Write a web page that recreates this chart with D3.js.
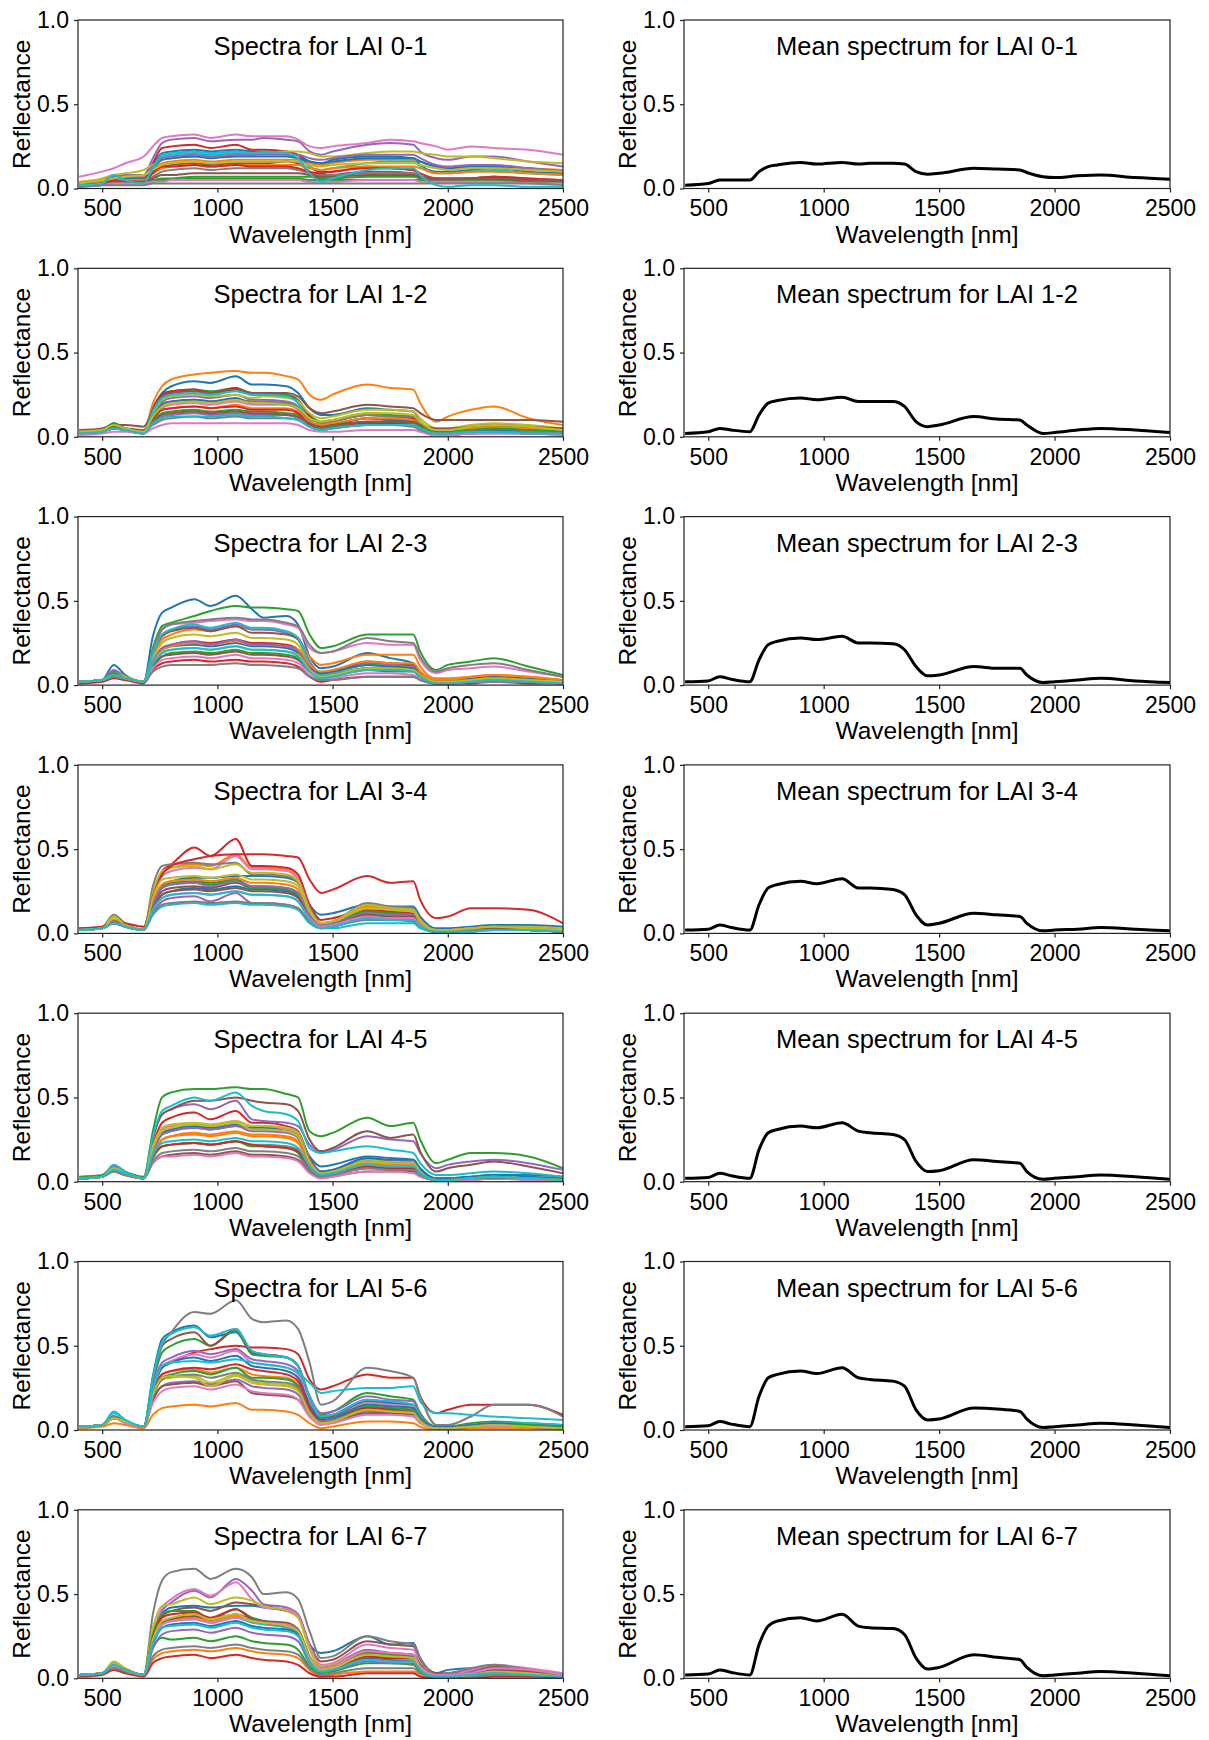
<!DOCTYPE html>
<html><head><meta charset="utf-8">
<script src="https://cdn.jsdelivr.net/npm/d3@7"></script>
<style>body{margin:0;background:#fff} svg text{font-family:"Liberation Sans",Arial,sans-serif;fill:#000}</style>
</head><body><svg id="c" width="1209" height="1740"></svg>
<script>
// Wavelength grid [nm] shared by all spectra
const wavelengths = [400,500,550,600,680,720,760,800,900,970,1080,1150,1200,1300,1350,1400,1450,1500,1650,1750,1850,1880,1950,2000,2100,2200,2350,2500];
// Reflectance values in percent, one row per spectrum
const spectraLAI01 = [
[2,3,6,5,4,14,21,22,23,22,23,22,22,22,20,16,15,17,19,19,18,14,10,10,11,12,10,9],
[3,5,7,7,7,11,15,16,17,16,17,17,17,17,17,15,14,15,17,17,17,16,13,12,13,13,12,11],
[2,3,4,4,4,5,6,6,7,7,7,7,7,7,7,7,6,6,7,7,7,6,5,5,5,5,5,4],
[2,3,5,4,4,15,24,25,26,24,26,23,23,22,20,13,10,10,13,12,11,8,5,5,6,7,5,4],
[3,5,8,8,8,18,27,29,30,28,29,29,30,29,28,22,20,22,26,27,26,22,18,17,19,19,16,13],
[2,4,5,6,6,10,13,14,15,14,15,15,15,16,15,10,7,8,10,10,9,7,5,5,6,6,5,4],
[7,10,12,15,19,25,30,31,32,30,32,31,31,31,29,25,24,25,27,29,28,27,25,23,25,24,23,20],
[2,3,4,4,4,7,10,11,12,11,12,12,12,12,11,9,8,8,9,9,9,7,6,6,6,7,6,5],
[4,6,8,9,11,14,17,18,19,19,20,20,21,22,22,21,19,19,21,22,22,21,20,19,19,18,16,15],
[3,4,6,6,5,13,19,20,21,20,21,20,21,20,18,13,11,12,15,16,16,13,9,9,10,11,9,8],
[3,4,6,6,6,12,17,18,19,18,19,19,19,19,18,16,15,16,18,18,18,16,13,12,13,13,12,10],
[2,4,5,5,5,9,12,13,14,13,14,14,14,14,14,12,11,12,13,13,13,12,9,9,10,10,9,8],
[1,2,3,3,3,4,5,5,6,6,6,6,6,6,6,5,5,5,5,5,5,5,4,4,4,4,4,3],
[2,3,5,4,4,9,13,13,14,13,14,13,13,13,12,10,9,10,12,12,11,9,6,6,6,7,6,5],
[3,5,7,7,8,13,18,19,20,19,20,20,20,20,20,18,17,18,20,20,20,18,14,13,14,14,12,10],
[2,3,4,4,4,6,8,8,9,9,9,9,9,9,9,8,7,7,8,8,8,7,6,6,6,6,5,5],
[1,2,3,3,3,4,4,5,5,5,5,5,5,5,5,4,4,4,5,5,5,4,4,4,4,4,3,3],
[1,2,2,2,2,3,3,3,3,3,3,3,3,3,3,3,3,3,3,3,3,3,3,3,3,3,3,2],
[3,5,6,7,8,11,14,15,16,15,16,16,16,16,16,14,13,14,15,15,15,14,12,11,12,12,11,10],
[2,3,8,5,3,12,20,21,22,21,22,21,22,21,18,9,4,6,11,12,12,8,2,1,2,2,1,1]
];
const spectraLAI12 = [
[3,4,6,5,3,17,26,30,33,32,36,31,31,30,26,17,13,13,17,16,15,9,4,4,5,6,5,4],
[3,4,6,5,3,20,30,34,37,38,39,38,38,36,34,25,22,25,31,29,28,20,9,12,16,18,11,7],
[2,4,8,5,3,16,25,27,28,27,29,26,26,25,22,13,9,10,14,13,12,8,3,3,4,5,4,3],
[2,3,6,4,2,16,25,27,28,26,29,25,25,24,21,12,8,9,13,12,11,7,2,2,3,4,3,2],
[2,3,6,4,2,14,21,23,24,23,25,22,22,21,18,9,6,7,11,10,10,6,2,2,3,4,3,2],
[4,5,7,7,6,16,24,26,27,26,28,26,26,26,24,17,14,15,19,18,17,14,10,10,10,10,10,9],
[2,3,5,4,2,11,17,19,20,19,21,19,19,19,16,8,5,6,9,9,8,5,2,2,2,3,2,2],
[3,4,6,5,4,13,20,21,22,21,22,21,21,20,18,11,8,9,13,12,12,8,4,4,5,6,5,4],
[3,4,7,5,3,14,22,24,25,24,25,23,24,23,21,14,11,12,16,16,15,11,5,5,7,8,7,5],
[2,3,6,4,2,15,23,25,26,25,27,25,25,24,20,10,6,7,11,10,9,6,2,2,3,3,2,2],
[2,3,6,4,2,12,19,21,22,21,23,20,20,19,17,9,6,7,11,10,10,7,3,3,4,4,3,2],
[3,4,7,5,3,11,16,17,18,17,19,17,17,17,15,9,7,8,11,11,10,7,3,4,5,6,5,4],
[2,3,8,5,2,10,14,15,16,15,16,15,15,14,13,7,5,6,9,9,8,6,3,3,4,5,4,3],
[2,3,5,4,2,11,16,17,18,17,18,16,16,16,14,7,4,5,8,8,7,4,1,1,2,3,2,2],
[2,3,5,4,2,8,12,13,14,13,14,13,13,13,11,6,4,5,7,7,7,4,1,1,2,2,2,1],
[3,4,6,5,4,9,13,14,15,14,15,14,14,13,12,8,6,7,9,9,9,7,5,5,6,7,6,5],
[1,2,3,3,2,5,7,8,8,8,8,8,8,8,7,4,3,3,4,4,4,3,1,1,2,2,2,1],
[2,3,5,4,3,7,10,11,12,11,12,11,11,11,10,6,4,5,7,7,6,4,2,2,3,3,3,2],
[3,4,7,5,3,12,18,20,21,20,22,20,20,19,17,11,9,10,14,14,13,9,4,4,6,7,6,4],
[2,3,5,4,2,8,11,12,12,12,13,12,12,11,10,6,4,5,7,7,7,5,2,2,3,3,2,2]
];
const spectraLAI23 = [
[2,3,12,6,2,29,43,46,51,47,53,45,40,41,36,17,10,11,19,16,13,8,3,3,4,5,4,3],
[2,3,6,4,2,17,27,30,33,32,35,33,33,31,28,17,12,13,18,18,18,11,4,4,5,6,5,3],
[2,3,8,5,2,22,35,37,41,44,47,46,46,45,44,30,22,23,30,30,30,20,9,12,14,16,11,6],
[2,3,6,4,2,14,22,24,26,25,27,25,25,24,21,10,5,6,10,9,9,5,1,1,2,3,2,1],
[2,3,9,5,2,19,30,33,35,33,36,33,33,31,28,14,7,8,13,12,11,6,2,2,3,4,3,2],
[2,3,6,4,2,19,29,32,34,32,35,31,31,30,27,13,7,8,14,13,12,7,2,2,3,4,3,2],
[2,3,6,4,2,20,33,36,37,38,39,38,38,36,34,22,19,20,25,24,24,15,7,9,10,11,8,5],
[2,3,6,4,2,20,33,36,38,39,40,39,39,37,35,24,19,20,28,26,25,17,8,10,12,13,9,5],
[2,3,7,5,2,16,25,28,30,29,31,28,28,27,24,12,6,7,12,11,10,6,2,2,3,4,3,2],
[2,3,7,4,2,19,30,33,36,34,37,34,34,32,28,13,6,7,12,11,10,6,2,2,3,3,2,2],
[2,3,6,4,2,13,21,23,24,23,25,23,23,22,19,11,7,8,12,11,10,6,2,2,3,4,3,2],
[2,3,6,4,2,13,21,23,25,24,26,24,24,23,21,12,8,9,14,13,13,8,3,3,5,6,5,3],
[2,3,7,4,2,11,17,19,20,19,21,19,19,18,16,8,4,5,9,8,8,5,1,1,2,3,2,1],
[1,2,4,3,1,9,13,14,15,14,15,14,14,13,11,5,2,3,5,5,5,3,1,1,1,2,1,1],
[2,3,6,4,2,14,22,24,26,24,27,24,24,23,20,10,5,6,10,9,9,5,1,1,2,3,2,1],
[2,3,5,4,2,11,17,18,19,18,20,18,18,17,15,8,5,6,10,10,9,6,2,2,3,4,3,2],
[2,3,5,4,2,10,15,16,17,16,18,16,16,15,13,6,3,4,7,7,6,4,1,1,2,2,2,1],
[2,3,5,4,2,8,11,12,12,12,13,12,12,11,10,5,3,3,5,5,5,3,1,1,2,2,2,1],
[2,3,6,4,2,13,20,21,22,21,23,21,21,20,18,9,5,6,10,10,9,6,2,2,3,4,3,2],
[2,3,6,4,2,13,19,21,22,21,23,21,21,20,17,8,4,5,9,9,8,5,1,1,2,3,2,1]
];
const spectraLAI34 = [
[2,3,7,5,2,18,29,31,33,33,34,34,34,33,30,17,11,12,17,16,16,10,3,3,4,5,5,4],
[2,3,9,5,2,22,36,39,41,40,47,39,39,38,33,16,6,7,16,15,14,8,2,2,3,4,3,2],
[2,3,7,5,2,18,28,30,31,30,32,28,28,27,24,11,5,6,14,13,12,7,1,1,2,3,2,1],
[2,3,8,5,2,24,37,41,51,46,56,40,40,39,35,17,8,9,14,13,12,7,2,2,3,4,3,2],
[2,3,6,4,2,13,19,21,22,19,24,18,18,17,15,7,3,4,9,8,8,4,1,1,2,2,2,1],
[2,3,7,4,2,16,25,27,28,27,30,27,27,26,23,11,5,6,13,12,11,6,1,1,2,3,2,1],
[2,3,8,5,2,21,34,37,39,38,46,38,38,37,32,15,6,7,15,14,13,7,2,2,3,4,3,2],
[3,4,11,6,2,28,40,41,42,41,42,35,35,34,30,15,6,7,18,16,15,8,2,2,3,4,4,3],
[2,3,10,5,2,24,37,39,40,38,41,36,36,35,31,14,6,7,17,15,14,8,2,2,3,4,4,3],
[2,3,6,4,2,11,16,17,18,17,18,17,17,16,14,6,3,3,6,6,6,3,1,1,1,2,2,1],
[2,3,6,4,2,15,23,25,27,26,28,26,26,25,22,10,5,6,11,10,10,5,1,1,2,3,2,1],
[2,3,8,5,2,19,29,31,32,31,33,30,30,29,26,12,6,7,15,14,13,7,2,2,3,4,3,2],
[2,3,7,4,2,17,27,29,30,29,31,27,27,26,23,10,5,6,13,12,11,6,1,1,2,3,2,1],
[3,4,7,6,4,22,35,40,44,46,47,47,47,46,45,32,24,26,34,30,31,20,9,10,15,15,14,6],
[2,3,7,4,2,17,27,29,30,28,31,28,28,27,24,11,5,6,12,11,11,6,1,1,2,3,2,1],
[2,3,6,4,2,15,23,25,26,25,27,25,25,24,21,9,4,5,11,10,10,5,1,1,2,3,2,1],
[2,3,6,4,2,14,21,23,24,23,25,23,23,22,19,9,4,5,10,9,9,5,1,1,2,2,2,1],
[2,3,6,4,2,12,17,18,19,18,19,18,18,17,15,7,3,4,8,8,7,4,1,1,2,2,2,1],
[2,3,9,5,2,21,32,33,34,33,35,32,32,31,28,13,6,7,15,14,13,7,2,2,3,4,3,2],
[2,3,6,4,2,14,21,23,24,23,25,23,23,22,19,8,3,4,9,8,8,4,1,1,1,2,2,1]
];
const spectraLAI45 = [
[2,3,8,5,2,18,28,30,32,31,33,32,32,31,28,15,9,10,15,14,13,8,2,2,3,4,4,3],
[2,3,7,5,2,16,25,27,29,28,30,28,28,27,24,11,5,6,12,11,11,6,1,1,2,3,2,1],
[3,4,9,6,3,30,50,53,55,55,56,55,55,52,50,30,27,29,38,33,35,25,11,13,17,17,15,8],
[2,3,7,5,2,22,35,38,41,37,42,35,35,33,30,14,6,7,13,12,12,6,1,1,2,3,2,1],
[2,3,9,6,2,26,40,43,46,43,48,37,36,35,33,22,18,19,27,25,24,17,8,10,12,13,11,7],
[2,3,8,5,2,26,40,43,48,48,50,48,47,46,42,25,18,20,30,26,28,18,6,8,10,12,9,5],
[2,3,7,5,2,21,31,33,34,33,36,33,33,31,28,13,6,7,14,13,12,6,1,1,2,3,2,1],
[2,3,6,4,2,14,21,22,23,22,24,22,22,21,19,9,4,5,10,9,9,5,1,1,2,2,2,1],
[2,3,8,5,2,21,32,34,35,34,36,33,33,32,29,13,5,6,13,12,11,6,1,1,2,3,3,2],
[2,3,10,6,2,27,42,45,50,48,53,45,42,40,36,20,17,18,21,19,17,11,4,4,5,6,5,3],
[2,3,7,5,2,19,29,31,33,32,34,31,31,30,27,13,6,7,14,13,13,7,2,2,3,4,3,2],
[2,3,7,4,2,17,25,27,28,27,29,27,27,26,23,10,4,5,11,10,10,5,1,1,2,3,2,1],
[2,3,7,5,2,15,21,22,23,22,24,21,21,20,17,7,3,4,8,8,7,4,1,1,2,2,2,1],
[2,3,6,4,2,15,21,22,23,22,24,22,21,20,18,8,3,4,9,8,8,4,1,1,2,2,2,1],
[2,3,7,5,2,18,28,30,32,31,33,30,30,29,26,12,5,6,12,11,11,6,1,1,2,3,2,1],
[2,3,6,4,2,11,15,16,17,16,18,16,16,15,13,6,2,3,6,6,6,3,1,1,1,2,2,1],
[2,3,6,4,2,11,15,15,16,15,17,15,15,14,12,5,2,3,6,6,5,3,1,1,1,2,1,1],
[2,3,6,4,2,12,17,18,19,18,20,18,18,17,15,7,3,4,8,7,7,4,1,1,2,2,2,1],
[2,3,8,5,2,20,30,32,34,33,35,31,31,30,27,12,5,6,12,11,11,6,1,1,2,3,2,1],
[2,3,7,5,2,16,23,24,25,24,26,24,24,23,20,9,4,5,10,9,9,5,1,1,2,3,2,1]
];
const spectraLAI56 = [
[2,3,8,5,2,32,54,58,62,55,58,46,45,43,38,20,8,9,18,16,15,8,2,2,3,4,3,2],
[1,2,4,3,1,9,13,14,15,14,16,12,12,11,9,4,1,2,5,5,4,2,0,0,1,1,1,0],
[2,3,8,5,2,28,46,50,54,50,59,45,44,43,38,20,9,11,22,20,18,10,2,2,4,5,4,3],
[2,3,8,5,2,24,37,40,46,48,50,49,49,48,45,30,24,26,33,31,31,20,10,12,15,15,15,9],
[2,3,8,5,2,26,40,43,47,45,48,42,41,39,35,20,10,11,20,18,17,9,2,2,3,4,3,2],
[2,3,8,5,2,30,50,54,58,50,60,46,45,43,38,19,7,8,17,15,14,7,2,2,3,4,3,2],
[2,3,7,5,2,25,38,41,45,43,47,40,39,37,33,16,6,7,16,15,14,7,2,2,3,4,3,2],
[2,3,8,5,2,30,50,58,70,69,77,66,64,65,60,40,15,17,37,35,31,20,3,3,8,15,15,8],
[2,3,7,5,2,20,30,31,32,28,33,29,28,27,24,11,5,6,13,12,11,6,1,1,3,4,3,2],
[2,3,11,6,2,31,52,57,61,56,60,47,45,43,38,20,8,9,18,17,15,8,2,2,3,4,4,3],
[2,3,7,5,2,24,37,40,43,41,44,38,37,35,31,15,6,7,15,14,13,7,2,2,3,4,3,2],
[2,3,7,5,2,22,33,35,36,34,37,33,32,31,27,12,5,6,13,12,11,6,1,1,2,3,2,1],
[2,3,7,5,2,21,31,33,35,33,37,31,31,30,26,11,5,6,14,13,12,6,1,1,2,3,3,2],
[2,3,7,5,2,22,33,35,37,36,39,36,35,33,29,13,5,6,13,12,11,6,1,1,2,3,2,1],
[2,3,7,5,2,18,26,28,29,27,30,26,25,24,21,9,4,5,11,10,10,5,1,1,2,3,2,1],
[2,3,7,5,2,18,26,27,28,26,29,22,21,20,18,8,4,5,10,10,9,5,1,1,2,3,2,1],
[2,3,7,4,2,16,23,25,26,24,27,23,22,21,18,8,3,4,9,9,8,4,1,1,2,2,2,1],
[2,3,7,5,2,20,30,32,33,31,34,30,29,28,25,11,5,6,12,11,11,6,1,1,2,3,2,1],
[2,3,7,5,2,21,31,32,31,26,32,28,27,26,23,10,4,5,12,11,10,5,1,1,2,3,2,1],
[2,3,10,6,2,24,38,40,41,40,42,40,39,37,34,28,22,23,25,25,26,17,10,10,9,8,7,6]
];
const spectraLAI67 = [
[2,3,7,5,2,24,38,42,43,42,43,43,42,40,37,20,15,16,25,20,21,12,3,5,6,6,4,2],
[2,3,6,4,2,11,15,16,17,16,18,16,15,14,12,5,1,2,4,4,4,2,0,0,1,1,1,0],
[2,3,8,5,2,18,24,23,24,22,25,22,21,20,17,7,3,4,9,9,8,4,1,1,2,3,2,1],
[1,2,5,3,1,9,12,13,14,12,14,12,11,10,8,3,1,1,3,3,3,1,0,0,0,1,1,0],
[2,3,8,5,2,25,40,45,52,48,59,52,44,42,38,20,7,8,17,15,14,8,2,2,4,6,5,2],
[2,3,8,5,2,24,37,40,42,40,45,44,43,40,37,20,10,11,22,20,19,11,3,3,5,7,5,2],
[2,3,8,5,2,26,42,47,53,49,57,47,42,41,37,19,8,9,20,18,17,9,2,2,5,8,6,3],
[2,3,9,5,2,38,58,63,65,59,65,60,50,51,47,28,12,13,25,22,20,12,2,3,6,8,5,2],
[2,3,10,6,2,30,43,44,48,44,48,46,43,40,36,17,7,8,16,14,13,7,2,2,3,5,4,2],
[2,3,9,5,2,22,32,34,35,33,36,33,32,30,27,12,5,6,13,12,11,6,1,1,3,4,3,1],
[2,3,7,5,2,20,30,32,33,31,34,31,30,29,26,11,5,6,12,11,10,5,1,1,2,4,3,1],
[2,3,7,5,2,21,32,34,36,34,37,34,33,31,28,12,5,6,13,12,11,6,1,1,2,4,3,1],
[2,3,8,5,2,26,38,40,40,35,41,36,34,32,29,13,6,7,15,14,13,7,2,2,3,5,4,2],
[2,3,7,5,2,24,36,38,39,36,41,35,33,31,28,12,5,6,13,12,12,6,1,1,2,4,3,1],
[2,3,7,5,2,18,26,28,29,27,30,27,26,25,22,9,4,5,10,9,9,5,1,1,2,3,2,1],
[2,3,7,5,2,22,33,35,37,35,38,35,34,33,29,13,6,7,16,15,14,8,2,2,3,5,4,2],
[2,3,7,5,2,22,32,34,35,33,36,34,33,32,28,13,6,7,16,15,14,7,2,2,3,6,5,2],
[2,3,6,4,2,13,17,18,19,18,20,18,17,16,14,6,2,3,6,6,6,3,1,1,1,2,2,1],
[2,3,9,5,2,23,34,36,38,35,38,34,33,31,28,12,5,6,14,13,12,6,1,1,2,4,3,1],
[2,3,8,5,2,21,30,31,32,30,33,30,29,28,25,10,4,5,11,10,10,5,1,1,2,3,2,1]
];
// Mean spectra (percent)
const meanLAI01 = [2,3,5,5,5,10,13,14,15.5,14.5,15.5,14.5,15,15,14.5,10,8.5,9,12,11.5,11,9.5,7,6.5,7.5,8,6.5,5.5];
const meanLAI12 = [2,3,5,4,3,13,20,21.5,23,22,23.5,21,21,21,18,9,6,7,12,10.5,10,7,2,2.5,4,5,4,2.5];
const meanLAI23 = [2,2.5,5,3.5,2,15,24,26,28,27,29,25,25,24.5,21,11,5.5,6,11,10,10,6,1.5,2,3,4,2.5,1.5];
const meanLAI34 = [2,2.5,5,3.5,2,17,27,29,31,29.5,32.5,27,27,26,23,11,5,6,12,11,10,6,1.5,2,2.5,3.5,2.5,1.5];
const meanLAI45 = [2,2.5,5,3.5,2,19,29,31,33,32,35,30,29,28,25,12,6,6.5,13,12,11,6,1.5,2,3,4,3,1.5];
const meanLAI56 = [2,2.5,5,3.5,2,20,31,33,35,33.5,37,31,30,29,26,12,6,6.5,13,12.5,11,6.5,1.5,2,3,4,3,1.5];
const meanLAI67 = [2,2.5,5,3.5,2,20,31,34,36,34,38,31,30,29.5,26,12,5.5,6.5,14,12.5,11,6.5,1.5,2,3,4,3,1.5];

const laiClasses = ["0-1","1-2","2-3","3-4","4-5","5-6","6-7"];
const xTicks = [500,1000,1500,2000,2500];
const yTicks = [0,0.5,1.0];
const xDomain = [395,2500];
const yDomain = [0,1];

const panels = laiClasses.map((c,i)=>({
  label:c,
  spectra:[spectraLAI01,spectraLAI12,spectraLAI23,spectraLAI34,spectraLAI45,spectraLAI56,spectraLAI67][i],
  mean:[meanLAI01,meanLAI12,meanLAI23,meanLAI34,meanLAI45,meanLAI56,meanLAI67][i]
}));

const colors = d3.schemeCategory10;
const svg = d3.select("#c");
const FONT = '"Liberation Sans", Arial, sans-serif';
const cols = [{x0:78,x1:563},{x0:684,x1:1170}];
const rowTop = i => 20 + i*248.3;
const H = 168.5;

function drawAxes(g, x, y, x0, x1, top, title){
  const bottom = top + H;
  const gx = g.append("g").attr("transform",`translate(0,${bottom})`)
    .call(d3.axisBottom(x).tickValues(xTicks).tickFormat(d3.format("d")).tickSize(4).tickSizeOuter(0).tickPadding(7.5));
  const gy = g.append("g").attr("transform",`translate(${x0},0)`)
    .call(d3.axisLeft(y).tickValues(yTicks).tickFormat(d3.format(".1f")).tickSize(4).tickSizeOuter(0).tickPadding(5));
  [gx,gy].forEach(a=>{
    a.attr("font-family",FONT).attr("font-size",23);
    a.select(".domain").remove();
    a.selectAll(".tick line").attr("stroke","#222").attr("stroke-width",1.2);
    a.selectAll(".tick text").attr("fill","#000");
  });
  g.append("rect").attr("x",x0).attr("y",top).attr("width",x1-x0).attr("height",H)
    .attr("fill","none").attr("stroke","#222").attr("stroke-width",1.2);
  g.append("text").attr("x",(x0+x1)/2).attr("y",top+35).attr("text-anchor","middle")
    .attr("font-size",25.5).text(title);
  g.append("text").attr("x",(x0+x1)/2).attr("y",bottom+54).attr("text-anchor","middle")
    .attr("font-size",24.5).text("Wavelength [nm]");
  g.append("text").attr("transform",`translate(${x0-48},${top+H/2}) rotate(-90)`)
    .attr("text-anchor","middle").attr("font-size",24.5).text("Reflectance");
}

panels.forEach((p,i)=>{
  const top = rowTop(i);
  cols.forEach((c,ci)=>{
    const g = svg.append("g");
    const x = d3.scaleLinear().domain(xDomain).range([c.x0,c.x1]);
    const y = d3.scaleLinear().domain(yDomain).range([top+H, top]);
    const line = d3.line()
      .defined(d=>d[0]!==undefined && d[1]!==undefined)
      .x(d=>x(d[0])).y(d=>y(d[1]/100)).curve(d3.curveMonotoneX);
    const toPts = vals => vals.map((v,k)=>[wavelengths[k],v]);
    const clipId = `clip${i}_${ci}`;
    g.append("clipPath").attr("id",clipId).append("rect")
      .attr("x",c.x0).attr("y",top).attr("width",c.x1-c.x0).attr("height",H);
    const lg = g.append("g").attr("clip-path",`url(#${clipId})`);
    if(ci===0){
      p.spectra.forEach((s,k)=>{
        lg.append("path").attr("d",line(toPts(s))).attr("fill","none")
          .attr("stroke",colors[k%10]).attr("stroke-width",2).attr("stroke-linejoin","round");
      });
      drawAxes(g,x,y,c.x0,c.x1,top,`Spectra for LAI ${p.label}`);
    } else {
      lg.append("path").attr("d",line(toPts(p.mean))).attr("fill","none")
        .attr("stroke","#000").attr("stroke-width",3).attr("stroke-linejoin","round");
      drawAxes(g,x,y,c.x0,c.x1,top,`Mean spectrum for LAI ${p.label}`);
    }
  });
});
</script></body></html>
